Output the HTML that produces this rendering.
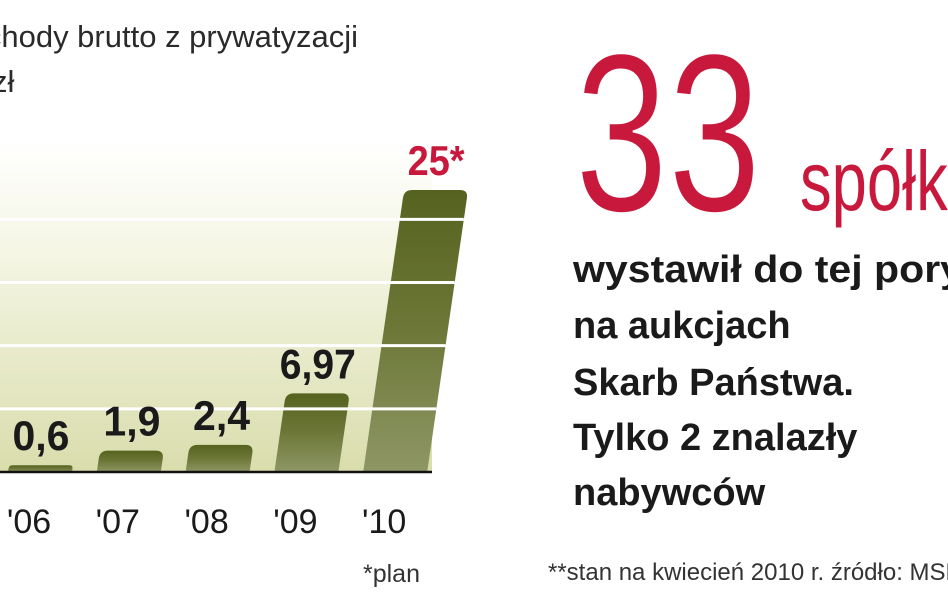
<!DOCTYPE html>
<html><head><meta charset="utf-8"><style>
html,body{margin:0;padding:0;background:#fff;width:948px;height:593px;overflow:hidden}
svg{display:block;font-family:"Liberation Sans",sans-serif}
</style></head><body>
<svg id="chart" width="948" height="593" viewBox="0 0 948 593" xmlns="http://www.w3.org/2000/svg">
<defs>
<linearGradient id="bg" x1="0" y1="0" x2="0" y2="1">
<stop offset="0" stop-color="#ffffff"/><stop offset="0.35" stop-color="#f4f5e3"/><stop offset="1" stop-color="#d9ddac"/>
</linearGradient>
<linearGradient id="barg" x1="0" y1="0" x2="0" y2="1">
<stop offset="0" stop-color="#56621f"/><stop offset="0.5" stop-color="#6d7838"/><stop offset="1" stop-color="#8e9765"/>
</linearGradient>
</defs>
<rect x="0" y="140" width="432" height="332" fill="url(#bg)"/>
<g id="bars"></g>
<g id="grid"></g>
<line x1="0" y1="472" x2="432" y2="472" stroke="#111" stroke-width="2.5"/>
<g id="labels"></g>
<text x="358" y="47" text-anchor="end" font-size="31" fill="#2a2a2a">Dochody brutto z prywatyzacji</text>
<text x="-8" y="92" font-size="31" fill="#2a2a2a">zł</text>
<text x="363" y="582" font-size="25" fill="#333">*plan</text>
<text x="575" y="211" font-size="226" fill="#c8183c" stroke="#fff" stroke-width="2" textLength="186" lengthAdjust="spacingAndGlyphs">33</text>
<text x="800" y="210" font-size="84" fill="#c8183c" textLength="211" lengthAdjust="spacingAndGlyphs">spółki**</text>
<g font-size="38" font-weight="bold" fill="#1a1a1a">
<text x="573" y="282" textLength="390" lengthAdjust="spacingAndGlyphs">wystawił do tej pory</text>
<text x="573" y="338">na aukcjach</text>
<text x="573" y="395">Skarb Państwa.</text>
<text x="573" y="450">Tylko 2 znalazły</text>
<text x="573" y="505">nabywców</text>
</g>
<text x="548" y="580" font-size="24" fill="#333">**stan na kwiecień 2010 r. źródło: MSP</text>
<script>
const categories = ["'06","'07","'08","'09","'10"];
const values = [0.6, 1.9, 2.4, 6.97, 25];
const valueLabels = ["0,6","1,9","2,4","6,97","25*"];
const gridValues = [5.6, 11.2, 16.8, 22.4];
const NS = "http://www.w3.org/2000/svg";
const baseY = 472, unit = 282/25;
function yScale(v){ return baseY - v*unit; }
function xScale(i){ return 40 + i*88.8; }
const barW = 64, slant = 0.145;
const bars = document.getElementById('bars');
const labels = document.getElementById('labels');
const grid = document.getElementById('grid');
values.forEach((v,i)=>{
  const cx = xScale(i), top = yScale(v), h = baseY - top, off = h*slant;
  const x0 = cx - barW/2, x1 = cx + barW/2, r = Math.min(8, h/2);
  const p = document.createElementNS(NS,'path');
  p.setAttribute('d',`M${x0},${baseY} L${x0+off-r*slant},${top+r} Q${x0+off},${top} ${x0+off+r},${top} L${x1+off-r},${top} Q${x1+off},${top} ${x1+off-r*slant},${top+r} L${x1},${baseY} Z`);
  p.setAttribute('fill','url(#barg)');
  
  
  bars.appendChild(p);
  const t = document.createElementNS(NS,'text');
  t.setAttribute('x', cx + off);
  t.setAttribute('y', top - 15);
  t.setAttribute('text-anchor','middle');
  t.setAttribute('font-size','42');
  t.setAttribute('font-weight','bold');
  t.setAttribute('fill', i===4 ? '#c8183c' : '#1a1a1a');
  t.setAttribute('textLength', valueLabels[i].length*19);
  t.setAttribute('lengthAdjust','spacingAndGlyphs');
  t.textContent = valueLabels[i];
  
  
  labels.appendChild(t);
  const c = document.createElementNS(NS,'text');
  c.setAttribute('x', cx - 11);
  c.setAttribute('y', 533);
  c.setAttribute('text-anchor','middle');
  c.setAttribute('font-size','34');
  c.setAttribute('fill','#1a1a1a');
  c.textContent = categories[i];
  
  
  labels.appendChild(c);
});
gridValues.forEach((g,k)=>{
  const y = yScale(g);
  const last = values.length-1;
  const xr = xScale(last) + barW/2 + (baseY - y)*slant;
  const l = document.createElementNS(NS,'line');
  l.setAttribute('x1',0); l.setAttribute('x2',xr);
  l.setAttribute('y1',y); l.setAttribute('y2',y);
  l.setAttribute('stroke','#fff'); l.setAttribute('stroke-width','3');
  
  
  grid.appendChild(l);
});
</script>
</svg>
</body></html>
